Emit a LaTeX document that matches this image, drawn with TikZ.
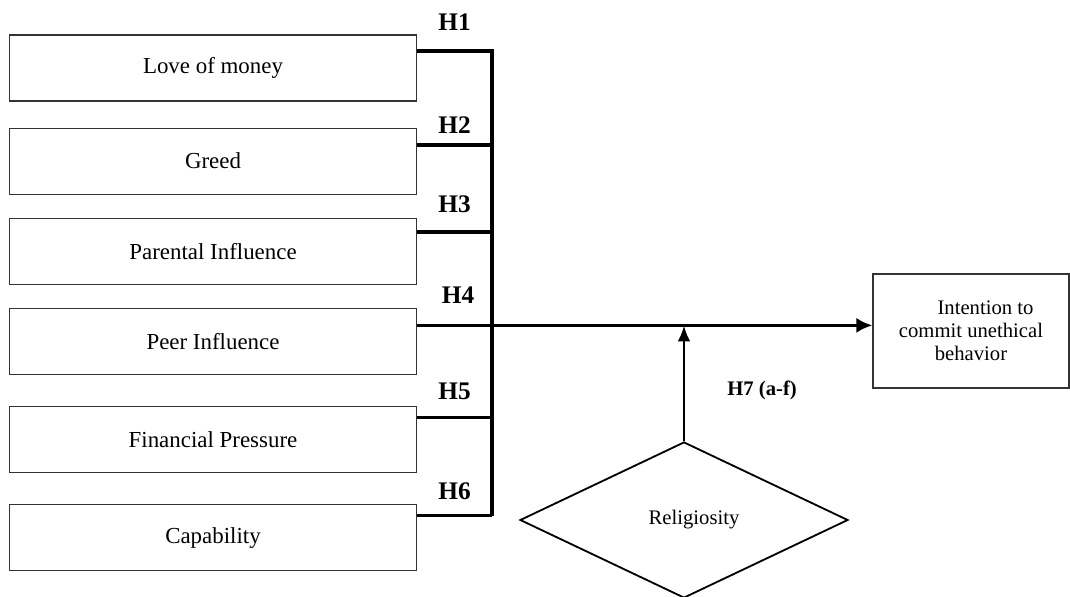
\documentclass[tikz,border=0pt]{standalone}
\usepackage{fontspec}
\setmainfont{Liberation Serif}
\usetikzlibrary{positioning,arrows.meta,shapes.geometric}

\begin{document}
\begin{tikzpicture}[>={Latex[length=4mm,width=3.8mm]},node distance=6mm]
\tikzstyle{var}=[draw=black!80,line width=0.8pt,minimum width=10.175cm,
  minimum height=1.65cm,inner sep=0pt,align=center,
  font=\fontsize{16.3}{19}\selectfont]
\tikzstyle{dv}=[draw=black!80,line width=0.8pt,minimum width=4.9cm,
  minimum height=2.85cm,inner sep=0pt,align=center,
  font=\fontsize{14.7}{16.5}\selectfont]
\tikzstyle{modbox}=[diamond,draw=black,line width=1.3pt,minimum width=8.2cm,
  minimum height=3.9cm,inner sep=0pt,font=\fontsize{14.7}{17}\selectfont]
\tikzstyle{hyp}=[inner sep=0pt,font=\fontsize{18}{20}\selectfont\bfseries]
\tikzstyle{bus}=[line width=2.6pt,line join=miter]

\useasboundingbox (0,0) rectangle (26.75,-14.925);

% predictors
\node[var] (lom) at (5.325,-1.7) {Love of money};
\node[var,below=0.65cm of lom] (greed) {Greed};
\node[var,below=0.575cm of greed] (par) {Parental Influence};
\node[var,below=0.575cm of par] (peer) {Peer Influence};
\node[var,below=0.775cm of peer] (fin) {Financial Pressure};
\node[var,below=0.775cm of fin] (cap) {Capability};

% outcome and moderator
\node[dv] (intent) at (24.275,-8.275)
  {\hspace*{1.4em}Intention to\\ commit unethical\\ behavior};
\node[modbox] (relig) at (17.1,-13.0) {\hspace*{0.5cm}Religiosity};

\coordinate (h1) at ([yshift=0.425cm]lom.east);
\coordinate (h2) at ([yshift=0.4cm]greed.east);
\coordinate (h3) at ([yshift=0.475cm]par.east);
\coordinate (h4) at ([yshift=0.4cm]peer.east);
\coordinate (h5) at ([yshift=0.55cm]fin.east);
\coordinate (h6) at ([yshift=0.55cm]cap.east);
\coordinate (bustop) at ([xshift=1.875cm]h1);

\draw[bus] (h1) -- node[hyp,above=4.6mm] {H1} (bustop) -- (bustop |- h6);
\draw[bus] (h2) -- node[hyp,above=2.4mm] {H2} (h2 -| bustop);
\draw[bus] (h3) -- node[hyp,above=4.4mm] {H3} (h3 -| bustop);
\draw[bus] (h5) -- node[hyp,above=4.1mm] {H5} (h5 -| bustop);
\draw[bus] (h6) -- node[hyp,above=3.6mm] {H6} (h6 -| bustop);
\draw[bus,->] (h4) -- node[hyp,pos=0.09,above=5mm] {H4} (h4 -| intent.west);

\coordinate (modpt) at (relig.north |- h4);
\draw[line width=2pt,-{Latex[length=4mm,width=3.2mm]}] (relig.north) --
  node[hyp,pos=0.44,right=1.05cm,font=\fontsize{14.7}{16}\selectfont\bfseries]
  {H7 (a-f)} (modpt);
\end{tikzpicture}
\end{document}
